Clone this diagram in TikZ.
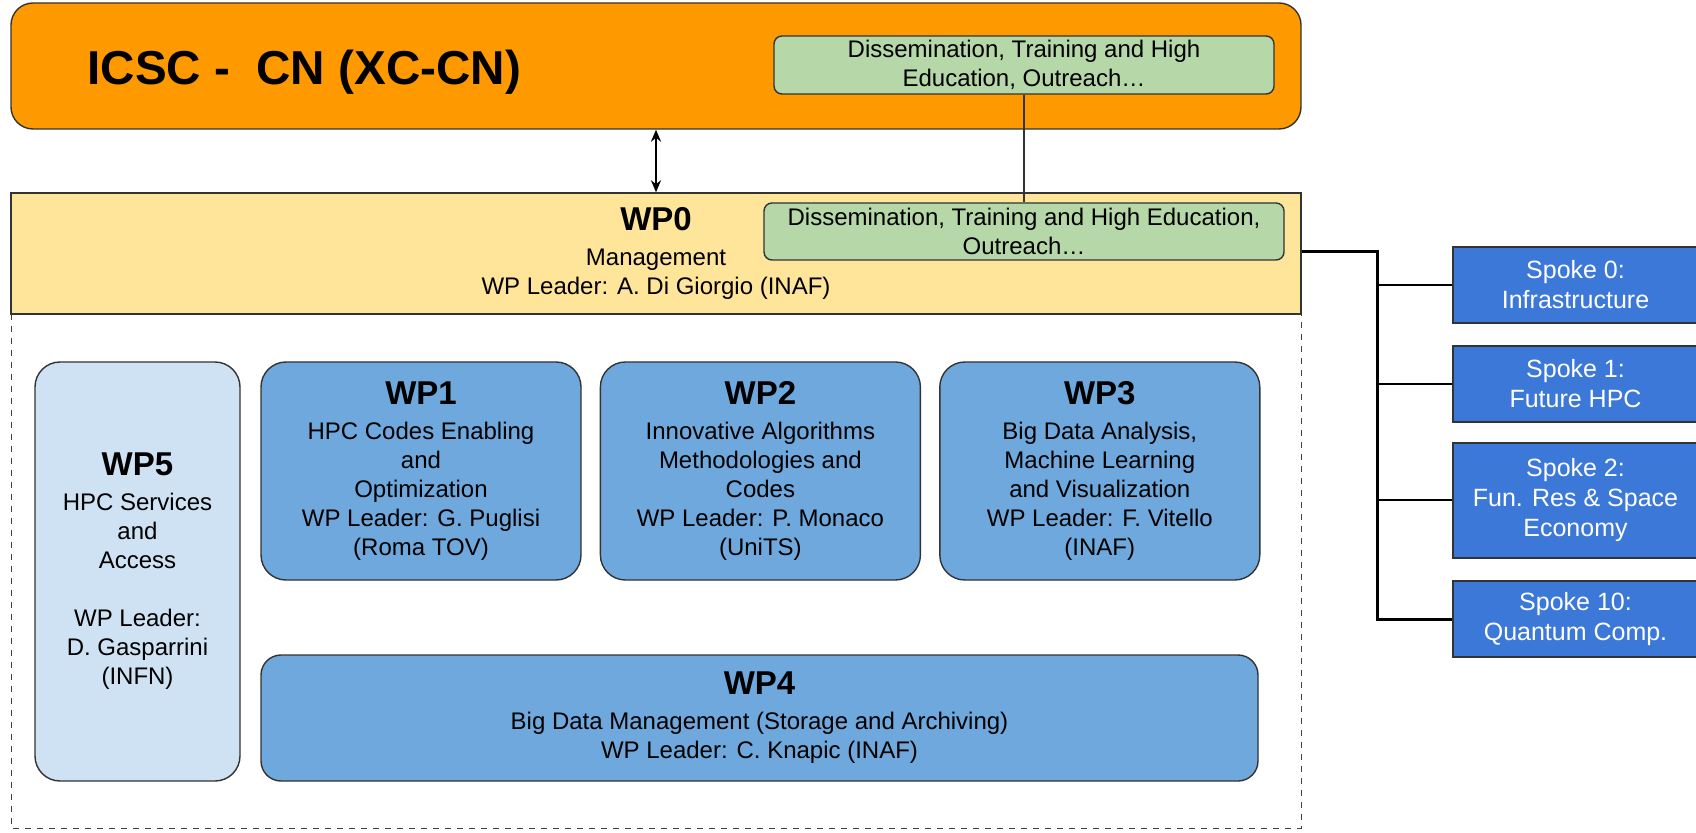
\documentclass[tikz,border=0pt]{standalone}
\usepackage{fontspec}
\setmainfont{Liberation Sans}
\usetikzlibrary{positioning,arrows.meta}

\definecolor{icscorange}{HTML}{FF9900}
\definecolor{wpyellow}{HTML}{FFE599}
\definecolor{dissgreen}{HTML}{B6D7A8}
\definecolor{wpblue}{HTML}{6FA8DC}
\definecolor{wplight}{HTML}{CFE2F3}
\definecolor{spokeblue}{HTML}{3C78D8}

\newcommand{\bodyfont}{\fontsize{12}{14.5}\selectfont}
\newcommand{\wphead}[1]{{\fontsize{16.5}{19}\selectfont\bfseries #1}\\[3pt]}

\tikzset{
  edge/.style={draw=black!80, line width=0.7pt},
  icscbox/.style={edge, fill=icscorange, rounded corners=11pt, minimum width=645pt, minimum height=63pt},
  titletext/.style={font=\fontsize{23.8}{26}\selectfont\bfseries, inner sep=0pt},
  greenbox/.style={edge, fill=dissgreen, rounded corners=4pt, align=center, font=\bodyfont, inner sep=0pt},
  wp0box/.style={edge, fill=wpyellow, minimum width=645pt, minimum height=60.5pt, align=center, font=\bodyfont, inner sep=0pt},
  wpbox/.style={edge, fill=wpblue, rounded corners=12.5pt, minimum width=160pt, minimum height=109pt, align=center, font=\bodyfont, inner sep=0pt},
  spoke/.style={edge, fill=spokeblue, text=white, minimum width=122.5pt, minimum height=38pt, align=center, font=\fontsize{12.5}{15}\selectfont, inner sep=0pt},
  dblarrow/.style={line width=1pt, {Stealth[length=6pt,width=5pt]}-{Stealth[length=6pt,width=5pt]}},
  bus/.style={line width=1.5pt},
  branch/.style={line width=1pt}
}

\begin{document}
\begin{tikzpicture}[x=0.5pt,y=-0.5pt]
  \useasboundingbox (0,0) rectangle (1696,833);
  \draw[dashed, line width=0.5pt, black!75] (11,314) rectangle (1301,828);

  \node[icscbox] (icsc) at (656,66) {};
  \node[titletext, anchor=west] (title) at (87,72) {ICSC -~~CN (XC-CN)};
  \node[greenbox, minimum width=250pt, minimum height=29pt] (dissTop) at (1024,65) {Dissemination, Training and High\\Education, Outreach…};

  \node[wp0box] (wp0) at (656,253.5) {\wphead{WP0}Management\\WP Leader: A. Di Giorgio (INAF)};
  \node[greenbox, minimum width=260pt, minimum height=28.5pt] (dissWP) at (1024,231.5) {Dissemination, Training and High Education,\\Outreach…};
  \draw[line width=0.6pt, black!80] (dissTop.south) -- (dissWP.north);

  \coordinate (arrowx) at (656,0);
  \draw[dblarrow] (icsc.south -| arrowx) -- (wp0.north -| arrowx);

  \node[wpbox, fill=wplight, minimum width=102.5pt, minimum height=209.5pt] (wp5) at (137.5,571.5) {\wphead{WP5}HPC Services\\and\\Access\\[14.5pt]WP Leader:\\D. Gasparrini\\(INFN)};

  \node[wpbox] (wp1) at (421,471) {\wphead{WP1}HPC Codes Enabling\\and\\Optimization\\WP Leader: G. Puglisi\\(Roma TOV)};
  \node[wpbox, right=9pt of wp1] (wp2) {\wphead{WP2}Innovative Algorithms\\Methodologies and\\Codes\\WP Leader: P. Monaco\\(UniTS)};
  \node[wpbox, right=9pt of wp2] (wp3) {\wphead{WP3}Big Data Analysis,\\Machine Learning\\and Visualization\\WP Leader: F. Vitello\\(INAF)};
  \node[wpbox, rounded corners=10pt, minimum width=498.5pt, minimum height=63pt] (wp4) at (759.5,718) {\wphead{WP4}Big Data Management (Storage and Archiving)\\WP Leader: C. Knapic (INAF)};

  \node[spoke] (sp0) at (1575.5,285) {Spoke 0:\\Infrastructure};
  \node[spoke] (sp1) at (1575.5,384) {Spoke 1:\\Future HPC};
  \node[spoke, minimum height=57.5pt] (sp2) at (1575.5,500.5) {Spoke 2:\\Fun. Res \& Space\\Economy};
  \node[spoke] (sp10) at (1575.5,619) {Spoke 10:\\Quantum Comp.};

  \coordinate (busTop) at (1377,252);
  \draw[bus] (wp0.east |- busTop) -- (busTop) |- (sp10.west);
  \foreach \s in {sp0,sp1,sp2}
    \draw[branch] (busTop |- \s.west) -- (\s.west);
\end{tikzpicture}
\end{document}
